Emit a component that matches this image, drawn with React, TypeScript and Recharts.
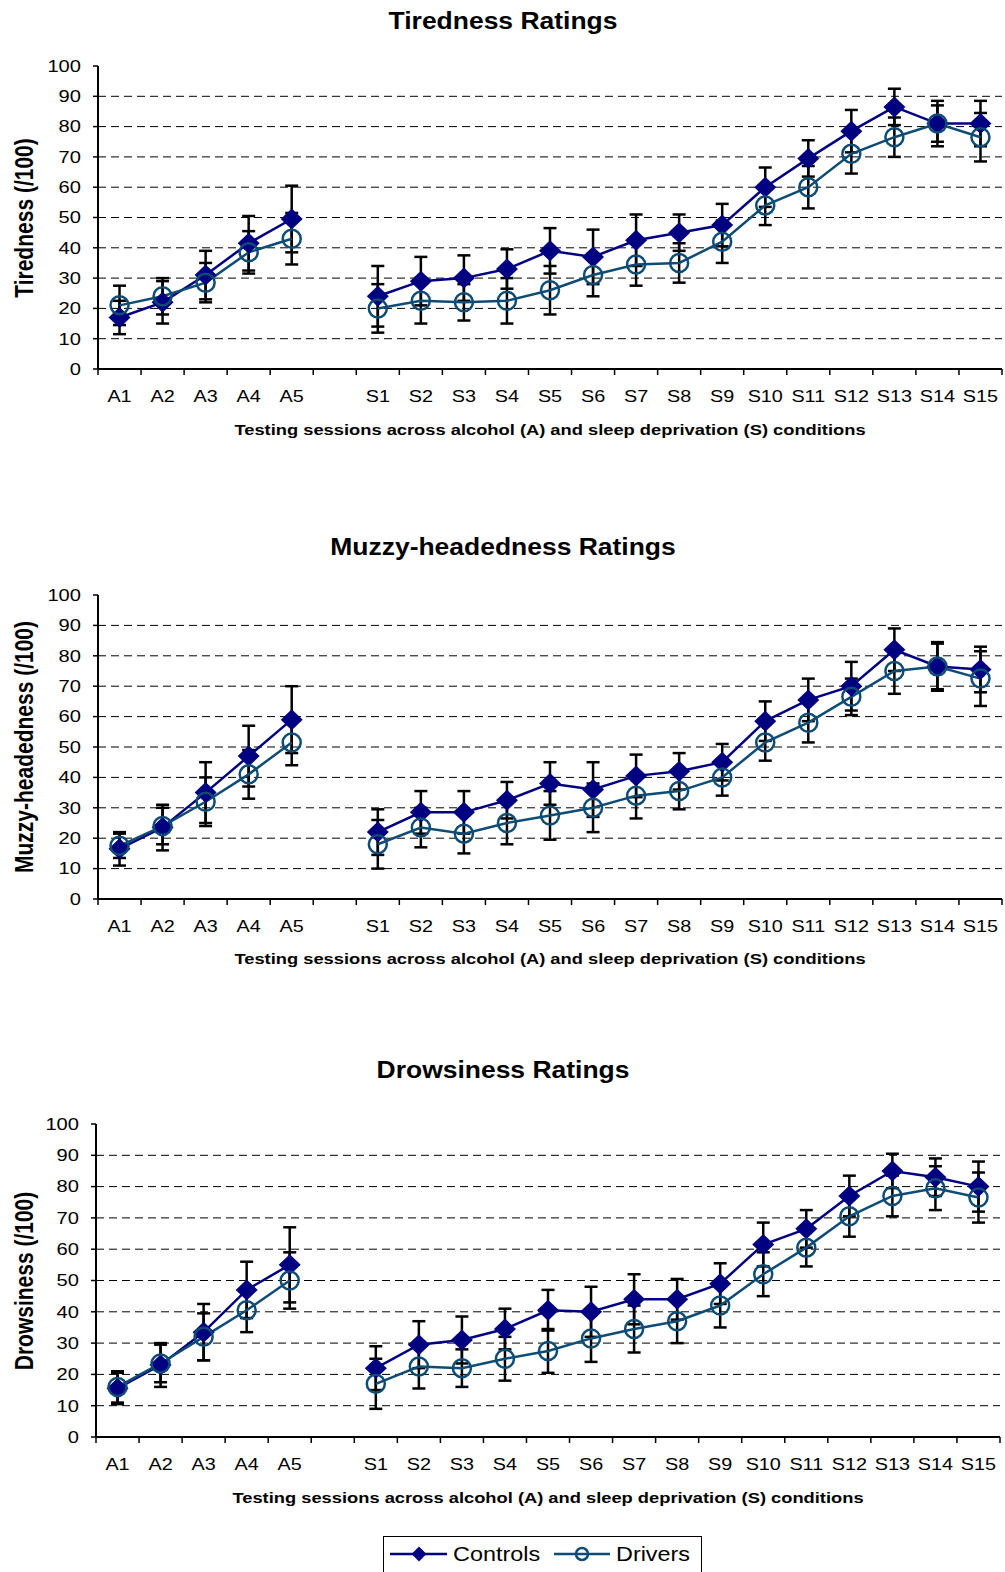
import React from 'react';
import { LineChart, Line, XAxis, YAxis, CartesianGrid, ErrorBar } from 'recharts';

// session labels; the blank slot separates alcohol (A) from sleep deprivation (S)
const sessions = [
  'A1', 'A2', 'A3', 'A4', 'A5', '',
  'S1', 'S2', 'S3', 'S4', 'S5', 'S6', 'S7', 'S8', 'S9', 'S10', 'S11', 'S12', 'S13', 'S14', 'S15',
];
const yTicks = [0, 10, 20, 30, 40, 50, 60, 70, 80, 90, 100];
const gridValues = [10, 20, 30, 40, 50, 60, 70, 80, 90];

const tirednessControls = [17, 22, 31, 41.5, 49.5, null, 24, 29, 30, 33, 39, 37, 42.5, 45, 47.5, 60, 69.5, 78.5, 86.5, 81, 81];
const tirednessControlsErr = [5.5, 7, 8, 9, 11, null, 10, 8, 7.5, 6.5, 7.5, 9, 8.5, 6, 7, 6.5, 6, 7, 6, 6, 7.5];
const tirednessDrivers = [21, 24, 28.5, 38.5, 43, null, 20, 22.5, 22, 22.5, 26, 31, 34.5, 35, 42, 54, 60, 71, 76.5, 81, 76.5];
const tirednessDriversErr = [6.5, 6, 6.5, 7, 8.5, null, 8, 7.5, 6, 7.5, 8, 7, 7, 6.5, 7, 6.5, 7, 6.5, 6.5, 7.5, 8];

const muzzyControls = [16.5, 23.5, 35, 47, 59, null, 22, 28.5, 28.5, 32.5, 38, 36, 40.5, 42, 45, 58.5, 65.5, 70, 82, 76.5, 75.5];
const muzzyControlsErr = [5.5, 7.5, 10, 10, 11, null, 7.5, 7, 7, 6, 7, 9, 7, 6, 6, 6.5, 7, 8, 7, 8, 7.5];
const muzzyDrivers = [17.5, 24, 32, 41, 51.5, null, 18, 23.5, 21.5, 25, 27.5, 30, 34, 35.5, 40, 51.5, 58, 66.5, 75, 76.5, 72.5];
const muzzyDriversErr = [4, 6, 8, 8, 7.5, null, 8, 6.5, 6.5, 7, 8, 8, 7.5, 6, 6, 6, 6.5, 6, 7.5, 7.5, 9];

const drowsinessControls = [15.5, 23, 33.5, 47, 55, null, 22, 29.5, 31, 34.5, 40.5, 40, 44, 44, 49, 61.5, 66.5, 77, 85, 83, 80];
const drowsinessControlsErr = [5, 7, 9, 9, 12, null, 7, 7.5, 7.5, 6.5, 6.5, 8, 8, 6.5, 6.5, 7, 6, 6.5, 5.5, 6, 8];
const drowsinessDrivers = [16, 23.5, 32, 40.5, 50, null, 17, 22.5, 22, 25, 27.5, 31.5, 34.5, 37, 42, 52, 60.5, 70.5, 77, 79.5, 76.5];
const drowsinessDriversErr = [5, 6, 7.5, 7, 9, null, 8, 7, 6, 7, 7, 7.5, 7.5, 7, 7, 7, 6, 6.5, 6.5, 7, 8];

const FONT = '"Liberation Sans", Arial, Helvetica, sans-serif';
const NAVY = '#000080';
const TEAL = '#0E4C76';
const FRAME = '#808080';
const WIDTH = 1005;

function buildRows(c: any[], ce: any[], d: any[], de: any[]) {
  return sessions.map((s, i) => ({
    session: s,
    controls: c[i],
    controlsErr: ce[i],
    drivers: d[i],
    driversErr: de[i],
  }));
}

const Diamond = (props: any) => {
  const { cx, cy, value, index } = props;
  if (cx == null || cy == null || value == null) return <g key={`d${index}`} />;
  return (
    <path key={`d${index}`} d={`M${cx},${cy - 10.5} L${cx + 11},${cy} L${cx},${cy + 10.5} L${cx - 11},${cy} Z`} fill={NAVY} />
  );
};

const Ring = (props: any) => {
  const { cx, cy, value, index } = props;
  if (cx == null || cy == null || value == null) return <g key={`r${index}`} />;
  return <circle key={`r${index}`} cx={cx} cy={cy} r={9} fill="none" stroke={TEAL} strokeWidth={2.5} />;
};

const YTick = (props: any) => {
  const { x, y, payload } = props;
  return (
    <text
      transform={`translate(${x},${y}) scale(1.22,1)`}
      textAnchor="end"
      dominantBaseline="central"
      fontSize={16.5}
      fontFamily={FONT}
      fill="#000"
    >
      {payload.value}
    </text>
  );
};

// labels sit in the middle of each slot, tick marks on the slot boundaries
const makeXTick = (step: number) => (props: any) => {
  const { x, y, payload, index } = props;
  const last = index === sessions.length - 1;
  return (
    <g>
      <line x1={x - step / 2} x2={x - step / 2} y1={y} y2={y + 6} stroke="#000" strokeWidth={1.5} />
      {last && <line x1={x + step / 2} x2={x + step / 2} y1={y} y2={y + 6} stroke="#000" strokeWidth={1.5} />}
      {payload.value !== '' && (
        <text
          transform={`translate(${x},${y + 28}) scale(1.2,1)`}
          textAnchor="middle"
          dominantBaseline="central"
          fontSize={16.5}
          fontFamily={FONT}
          fill="#000"
        >
          {payload.value}
        </text>
      )}
    </g>
  );
};

interface PanelProps {
  rows: any[];
  title: string;
  yLabel: string;
  titleY: number;
  xTitleY: number;
  plotTop: number;
  plotBottom: number;
  plotLeft: number;
  plotRight: number;
}

function RatingsPanel({ rows, title, yLabel, titleY, xTitleY, plotTop, plotBottom, plotLeft, plotRight }: PanelProps) {
  const topGap = 20;
  const xAxisHeight = 44;
  const svgTop = plotTop - topGap;
  const height = plotBottom - plotTop + topGap + xAxisHeight;
  const step = (plotRight - plotLeft) / sessions.length;
  const midX = (plotLeft + plotRight) / 2;

  return (
    <>
      <div
        style={{
          position: 'absolute', left: WIDTH / 2, top: titleY, transform: 'translate(-50%,-50%) scaleX(1.15)',
          fontFamily: FONT, fontWeight: 'bold', fontSize: 23, lineHeight: '23px', whiteSpace: 'nowrap',
        }}
      >
        {title}
      </div>
      <div
        style={{
          position: 'absolute', left: 24, top: (plotTop + plotBottom) / 2,
          transform: 'translate(-50%,-50%) rotate(-90deg) scaleY(1.2)',
          fontFamily: FONT, fontWeight: 'bold', fontSize: 21, lineHeight: '21px', whiteSpace: 'nowrap',
        }}
      >
        {yLabel}
      </div>
      <div
        style={{
          position: 'absolute', left: midX, top: xTitleY, transform: 'translate(-50%,-50%) scaleX(1.22)',
          fontFamily: FONT, fontWeight: 'bold', fontSize: 15, lineHeight: '15px', whiteSpace: 'nowrap',
        }}
      >
        Testing sessions across alcohol (A) and sleep deprivation (S) conditions
      </div>
      <div style={{ position: 'absolute', left: 0, top: svgTop }}>
        <LineChart
          width={WIDTH}
          height={height}
          data={rows}
          margin={{ top: topGap, right: WIDTH - plotRight, bottom: 0, left: 0 }}
        >
          <CartesianGrid horizontal vertical={false} horizontalValues={gridValues} stroke="#000" strokeDasharray="8 5" />
          <XAxis
            dataKey="session"
            scale="band"
            interval={0}
            height={xAxisHeight}
            tickSize={0}
            tickMargin={0}
            tickLine={false}
            axisLine={{ stroke: '#000', strokeWidth: 2 }}
            tick={makeXTick(step)}
          />
          <XAxis
            xAxisId="frame"
            orientation="top"
            dataKey="session"
            scale="band"
            height={0}
            tick={false}
            tickLine={false}
            axisLine={{ stroke: FRAME, strokeWidth: 2 }}
          />
          <YAxis
            domain={[0, 100]}
            ticks={yTicks}
            interval={0}
            width={plotLeft}
            tickSize={5}
            tickMargin={12}
            tickLine={{ stroke: '#000', strokeWidth: 1.5 }}
            axisLine={{ stroke: '#000', strokeWidth: 2 }}
            tick={<YTick />}
          />
          <YAxis
            yAxisId="frame"
            orientation="right"
            domain={[0, 100]}
            width={0}
            tick={false}
            tickLine={false}
            axisLine={{ stroke: FRAME, strokeWidth: 2 }}
          />
          <Line
            dataKey="controls"
            stroke={NAVY}
            strokeWidth={2.5}
            dot={Diamond}
            activeDot={false}
            isAnimationActive={false}
          >
            <ErrorBar dataKey="controlsErr" direction="y" width={6.5} stroke="#000" strokeWidth={2.5} />
          </Line>
          <Line
            dataKey="drivers"
            stroke={TEAL}
            strokeWidth={2.5}
            dot={Ring}
            activeDot={false}
            isAnimationActive={false}
          >
            <ErrorBar dataKey="driversErr" direction="y" width={6.5} stroke="#000" strokeWidth={2.5} />
          </Line>
        </LineChart>
      </div>
    </>
  );
}

function LegendBox() {
  return (
    <svg
      width={320}
      height={44}
      style={{ position: 'absolute', left: 383, top: 1536 }}
    >
      <rect x={0.5} y={0.5} width={318} height={42} fill="#fff" stroke="#000" strokeWidth={1} />
      <line x1={7} x2={64} y1={18} y2={18} stroke={NAVY} strokeWidth={2.5} />
      <path d="M36,10.5 L43.5,18 L36,25.5 L28.5,18 Z" fill={NAVY} />
      <text transform="translate(70,18) scale(1.17,1)" dominantBaseline="central" fontSize={20} fontFamily={FONT}>
        Controls
      </text>
      <line x1={171} x2={227} y1={18} y2={18} stroke={TEAL} strokeWidth={2.5} />
      <circle cx={199} cy={18} r={6} fill="none" stroke={TEAL} strokeWidth={2.5} />
      <text transform="translate(233,18) scale(1.17,1)" dominantBaseline="central" fontSize={20} fontFamily={FONT}>
        Drivers
      </text>
    </svg>
  );
}

export default function App() {
  return (
    <div
      style={{
        position: 'absolute', left: 0, top: 0, width: WIDTH, height: 1572,
        background: '#fff', overflow: 'hidden',
      }}
    >
      <RatingsPanel
        rows={buildRows(tirednessControls, tirednessControlsErr, tirednessDrivers, tirednessDriversErr)}
        title="Tiredness Ratings"
        yLabel="Tiredness (/100)"
        titleY={21}
        xTitleY={429}
        plotTop={66}
        plotBottom={369}
        plotLeft={98}
        plotRight={1002}
      />
      <RatingsPanel
        rows={buildRows(muzzyControls, muzzyControlsErr, muzzyDrivers, muzzyDriversErr)}
        title="Muzzy-headedness Ratings"
        yLabel="Muzzy-headedness (/100)"
        titleY={547}
        xTitleY={958}
        plotTop={595}
        plotBottom={899}
        plotLeft={98}
        plotRight={1002}
      />
      <RatingsPanel
        rows={buildRows(drowsinessControls, drowsinessControlsErr, drowsinessDrivers, drowsinessDriversErr)}
        title="Drowsiness Ratings"
        yLabel="Drowsiness (/100)"
        titleY={1070}
        xTitleY={1497}
        plotTop={1124}
        plotBottom={1437}
        plotLeft={96}
        plotRight={1000}
      />
      <LegendBox />
    </div>
  );
}
